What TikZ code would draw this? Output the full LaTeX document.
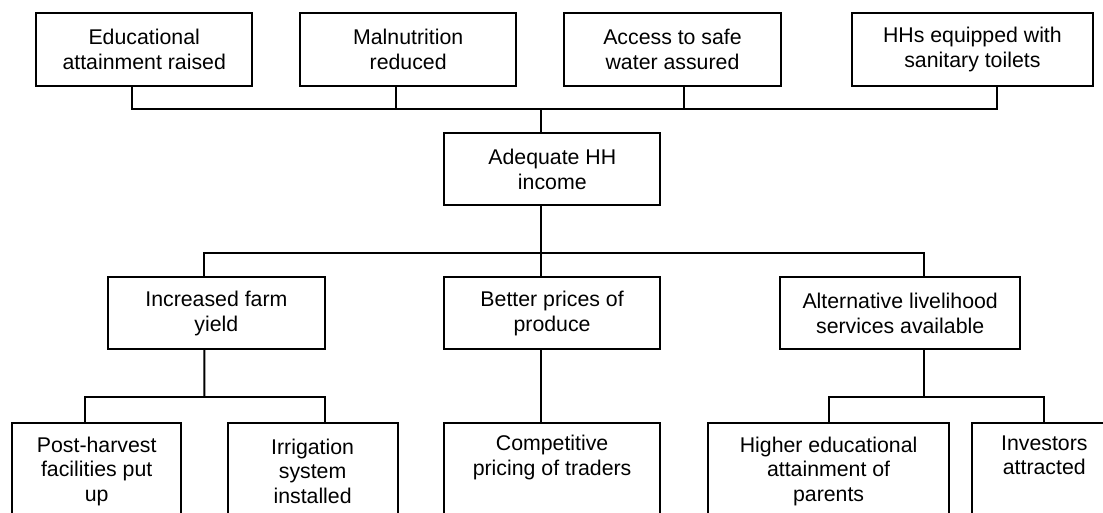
\documentclass[tikz,border=0pt]{standalone}
\usepackage{fontspec}
\setmainfont{Liberation Sans}
\begin{document}
\begin{tikzpicture}[x=1pt,y=-1pt, line width=2pt,
  every node/.style={font=\fontsize{21.3}{24.6}\selectfont},
  topbox/.style={draw, line width=2pt, inner sep=0pt, align=center, minimum height=72.4pt},
  midbox/.style={draw, line width=2pt, inner sep=0pt, align=center, minimum height=71.8pt},
  lowbox/.style={draw, line width=2pt, inner sep=0pt, align=center, anchor=north, minimum height=97pt},
  link/.style={line width=2pt}]
\useasboundingbox (0,0) rectangle (1103,513);
\clip (0,0) rectangle (1103,513);
% top row
\node[topbox, minimum width=216.3pt] (e1) at (144.2,49.5) {Educational\\attainment raised};
\node[topbox, minimum width=216.4pt] (e2) at (408.2,49.5) {Malnutrition\\reduced};
\node[topbox, minimum width=216.2pt] (e3) at (672.5,49.5) {Access to safe\\water assured};
\node[topbox, minimum width=241.3pt] (e4) at (972.4,49.5) {HHs equipped with\\sanitary toilets};
% centre
\node[topbox, minimum width=216pt, minimum height=72pt] (inc) at (552.3,169.3) {Adequate HH\\income};
% middle row
\node[midbox, minimum width=216.4pt] (y1) at (216.4,313.2) {Increased farm\\yield};
\node[midbox, minimum width=216.4pt] (y2) at (552.1,313.2) {Better prices of\\produce};
\node[midbox, minimum width=240.5pt] (y3) at (900.2,313.2) {Alternative livelihood\\services available};
% bottom row
\node[lowbox, minimum width=168.7pt] (b1) at (96.7,421.7) {Post-harvest\\facilities put\\up};
\node[lowbox, minimum width=169.8pt] (b2) at (312.6,421.7) {Irrigation\\system\\installed};
\node[lowbox, minimum width=216.4pt] (b3) at (552.1,421.7) {Competitive\\pricing of traders\\\strut};
\node[lowbox, minimum width=240.6pt] (b4) at (828.6,421.7) {Higher educational\\attainment of\\parents};
\node[lowbox, minimum width=145.2pt] (b5) at (1044.3,421.7) {Investors\\attracted\\\strut};
% junctions
\coordinate (j1) at (540.5,109);
\coordinate (j2) at (540.5,253.3);
\coordinate (j3) at (204.3,397);
\coordinate (j4) at (924.2,397);
% connectors
\draw[link] ([xshift=-12pt]e1.south) |- (j1);
\draw[link] ([xshift=-11.8pt]e2.south) |- (j1);
\draw[link] ([xshift=11.8pt]e3.south) |- (j1);
\draw[link] ([xshift=24.3pt]e4.south) |- (j1);
\draw[link] (j1) -- (j1 |- inc.north);
\draw[link] (j1 |- inc.south) -- (j2);
\draw[link] (j2) -- (j2 |- y2.north);
\draw[link] ([xshift=-12.1pt]y1.north) |- (j2);
\draw[link] ([xshift=24pt]y3.north) |- (j2);
\draw[link] ([xshift=-12.1pt]y1.south) -- (j3);
\draw[link] (j3) -| ([xshift=-12.1pt]b1.north);
\draw[link] (j3) -| ([xshift=12pt]b2.north);
\draw[link] (j2 |- y2.south) -- (j2 |- b3.north);
\draw[link] ([xshift=24pt]y3.south) -- (j4);
\draw[link] (j4) -| (b4.north);
\draw[link] (j4) -| (b5.north);
\end{tikzpicture}
\end{document}
